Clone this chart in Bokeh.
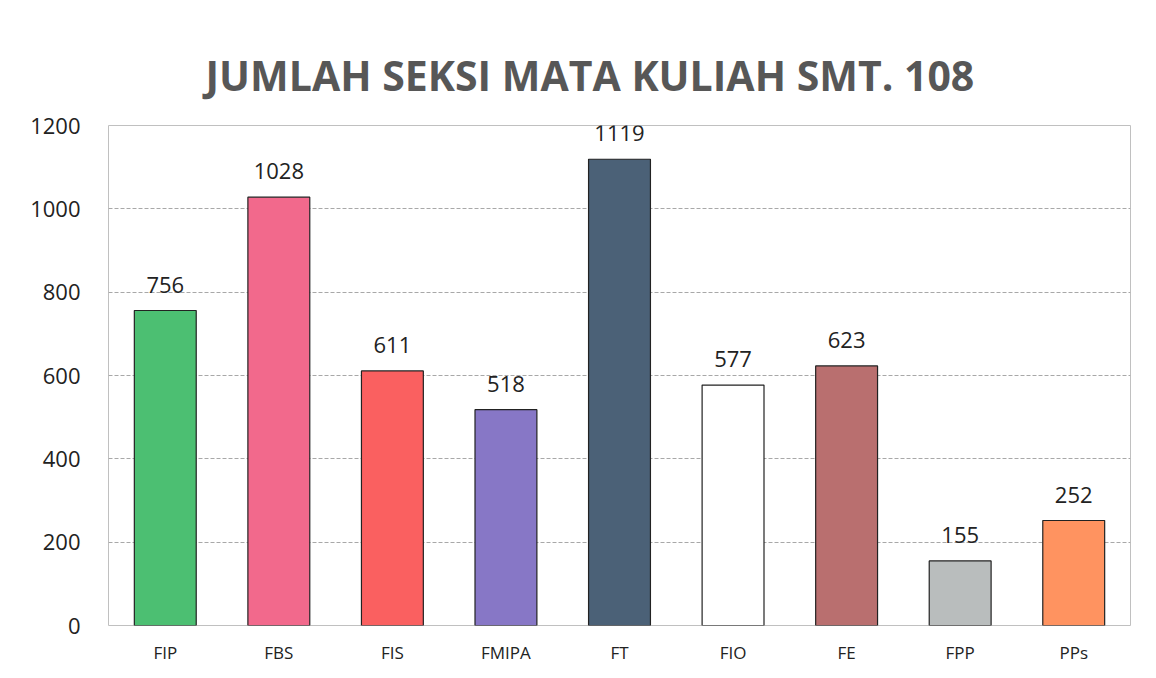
from bokeh.plotting import figure
from bokeh.models import ColumnDataSource, FactorRange, Range1d, LabelSet, FixedTicker
from bokeh.core.properties import value
from bokeh.embed import file_html
from bokeh.resources import INLINE

categories = ["FIP", "FBS", "FIS", "FMIPA", "FT", "FIO", "FE", "FPP", "PPs"]
values = [756, 1028, 611, 518, 1119, 577, 623, 155, 252]
colors = ["#4cbf72", "#f2698c", "#fa6060", "#8777c6", "#4b6177", "#ffffff", "#b96f6f", "#b9bdbd", "#ff9360"]
y_ticks = [0, 200, 400, 600, 800, 1000, 1200]

src = ColumnDataSource(dict(cat=categories, val=values, col=colors,
                            lab=[str(v) for v in values]))

p = figure(width=1148, height=668, x_range=FactorRange(*categories, range_padding=0),
           y_range=Range1d(0, 1200), output_backend="svg", toolbar_location=None,
           title="JUMLAH SEKSI MATA KULIAH SMT. 108")
p.min_border_left = 108
p.min_border_right = 18
p.min_border_top = 125
p.min_border_bottom = 43
p.border_fill_color = "white"
p.outline_line_color = "#c0c0c0"
p.outline_line_width = 1

p.title.align = "left"
p.title.text_font = "Open Sans"
p.title.text_font_size = "41px"
p.title.text_font_style = "bold"
p.title.text_color = "#575757"
p.title.offset = 97
p.title.standoff = 46

p.vbar(x="cat", top="val", width=0.545, source=src, fill_color="col",
       line_color="#222222", line_width=1.2)

labels = LabelSet(x="cat", y="val", text="lab", source=src, text_align="center",
                  text_baseline="bottom", y_offset=18, text_font=value("Open Sans"),
                  text_font_size=value("22px"), text_color="#222222")
p.add_layout(labels)

p.yaxis.ticker = FixedTicker(ticks=y_ticks)
p.yaxis.axis_line_color = None
p.yaxis.major_tick_line_color = None
p.yaxis.minor_tick_line_color = None
p.yaxis.major_label_text_font = "Open Sans"
p.yaxis.major_label_text_font_size = "22px"
p.yaxis.major_label_text_color = "#222222"
p.yaxis.major_label_standoff = 22

p.xaxis.axis_line_color = None
p.xaxis.major_tick_line_color = None
p.xaxis.major_label_text_font = "Open Sans"
p.xaxis.major_label_text_font_size = "17px"
p.xaxis.major_label_text_color = "#222222"
p.xaxis.major_label_standoff = 9

p.xgrid.grid_line_color = None
p.ygrid.grid_line_color = "#a8a8a8"
p.ygrid.grid_line_dash = "4 2"
p.ygrid.grid_line_width = 1

open("out.html", "w").write(file_html(p, INLINE))
